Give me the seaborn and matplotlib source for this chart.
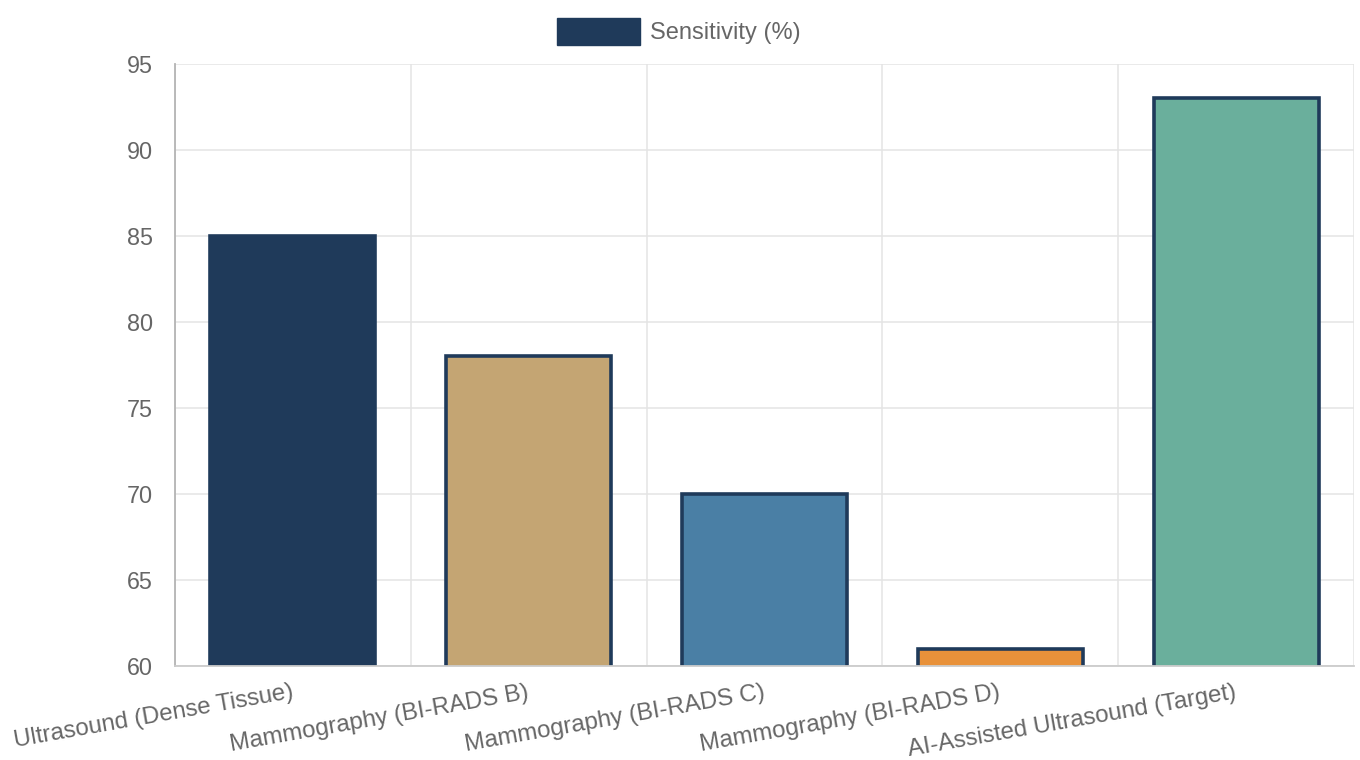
import matplotlib
matplotlib.use("Agg")
import matplotlib.pyplot as plt
from matplotlib.patches import Patch
import seaborn as sns
import pandas as pd

# chart data
categories = [
    "Ultrasound (Dense Tissue)",
    "Mammography (BI-RADS B)",
    "Mammography (BI-RADS C)",
    "Mammography (BI-RADS D)",
    "AI-Assisted Ultrasound (Target)",
]
sensitivity = [85, 78, 70, 61, 93]
bar_colors = ["#1f3a5a", "#c4a573", "#4a7fa5", "#e8913a", "#6aaf9c"]
series_label = "Sensitivity (%)"
y_ticks = [60, 65, 70, 75, 80, 85, 90, 95]

df = pd.DataFrame({"Method": categories, "Sensitivity": sensitivity})

sns.set_style("white")
plt.rcParams["font.family"] = ["Liberation Sans", "DejaVu Sans"]

navy = "#1f3a5a"
grid_c = "#e4e4e4"
text_c = "#666666"

fig = plt.figure(figsize=(13.6, 7.6), dpi=100)
ax = fig.add_axes([175 / 1360, 94 / 760, 1179 / 1360, 602 / 760])

sns.barplot(data=df, x="Method", y="Sensitivity", hue="Method",
            palette=bar_colors, dodge=False, legend=False, width=0.7,
            edgecolor=navy, linewidth=2.6, saturation=1, ax=ax)

ax.set_ylim(60, 95)
ax.set_xlim(-0.5, len(categories) - 0.5)
ax.set_yticks(y_ticks)
ax.set_xlabel("")
ax.set_ylabel("")

# grid lines between categories, like chart.js offset grid
ax.set_xticks([i - 0.5 for i in range(len(categories) + 1)], minor=True)
ax.grid(True, axis="y", color=grid_c, linewidth=1.1)
ax.grid(True, axis="x", which="minor", color=grid_c, linewidth=1.1)
ax.grid(False, axis="x", which="major")
ax.set_axisbelow(True)

ax.tick_params(axis="y", length=14.4, width=1.1, color=grid_c, pad=1.5,
               labelsize=16.8, labelcolor=text_c)
ax.tick_params(axis="x", which="minor", length=14.4, width=1.1, color=grid_c)
ax.tick_params(axis="x", which="major", length=0, pad=19,
               labelsize=17.3, labelcolor=text_c)
for lbl in ax.get_xticklabels():
    lbl.set_rotation(10)
    lbl.set_ha("right")
    lbl.set_va("center")
    lbl.set_rotation_mode("anchor")

ax.spines["left"].set_color("#b4b4b4")
ax.spines["left"].set_linewidth(1.3)
ax.spines["bottom"].set_color("#cccccc")
ax.spines["bottom"].set_linewidth(1.3)
ax.spines["top"].set_visible(False)
ax.spines["right"].set_visible(False)

fig.legend(handles=[Patch(facecolor=navy, edgecolor=navy)], labels=[series_label],
           loc="center", bbox_to_anchor=(679 / 1360, 1 - 31.5 / 760),
           frameon=False, fontsize=17, labelcolor=text_c,
           handlelength=3.5, handleheight=1.35, handletextpad=0.42,
           borderpad=0, borderaxespad=0)

fig.savefig("out.png", dpi=100)
